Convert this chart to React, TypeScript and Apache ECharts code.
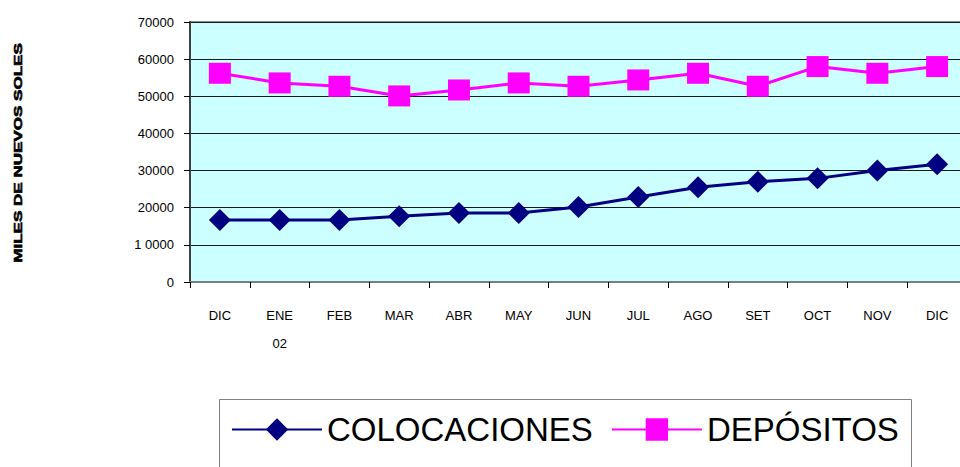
import React, { useEffect, useRef } from "react";
import * as echarts from "echarts";

const months = ["DIC", "ENE\n02", "FEB", "MAR", "ABR", "MAY", "JUN", "JUL", "AGO", "SET", "OCT", "NOV", "DIC"];
const colocaciones = [16700, 16700, 16700, 17700, 18600, 18600, 20200, 22900, 25500, 27000, 27900, 30000, 31700];
const depositos = [56200, 53600, 52700, 50100, 51700, 53600, 52700, 54400, 56200, 52700, 58000, 56200, 58000];
const yTickLabels = ["0", "1 0000", "20000", "30000", "40000", "50000", "60000", "70000"];
const yAxisTitle = "MILES DE NUEVOS SOLES";
const seriesNames = ["COLOCACIONES", "DEPÓSITOS"];

export default function App() {
  const ref = useRef<HTMLDivElement>(null);
  useEffect(() => {
    if (!ref.current) return;
    const chart = echarts.init(ref.current, undefined, { renderer: "svg" });
    const font = "'Liberation Sans', Arial, sans-serif";
    chart.setOption({
      animation: false,
      backgroundColor: "#ffffff",
      grid: {
        left: 190,
        right: 0,
        top: 22,
        bottom: 185,
        show: true,
        backgroundColor: "#CCFFFF",
        borderColor: "#8c8c8c",
        borderWidth: 2,
      },
      xAxis: {
        type: "category",
        data: months,
        boundaryGap: true,
        axisLine: { show: true, lineStyle: { color: "#7f7f7f", width: 2 } },
        axisTick: { show: true, length: 6, lineStyle: { color: "#000", width: 1 } },
        axisLabel: {
          color: "#000",
          fontFamily: font,
          fontSize: 13,
          margin: 19,
          lineHeight: 28,
          interval: 0,
        },
        splitLine: { show: false },
      },
      yAxis: {
        type: "value",
        min: 0,
        max: 70000,
        interval: 10000,
        axisLine: { show: true, lineStyle: { color: "#404040", width: 2 } },
        axisTick: { show: true, length: 6, lineStyle: { color: "#000", width: 1 } },
        axisLabel: {
          color: "#000",
          fontFamily: font,
          fontSize: 13,
          margin: 16,
          formatter: (_v: number, i: number) => yTickLabels[i],
        },
        splitLine: { show: true, lineStyle: { color: "#1a1a1a", width: 1 } },
      },
      legend: {
        left: 231,
        top: 413,
        itemWidth: 90,
        itemHeight: 28,
        itemGap: 18,
        data: seriesNames,
        textStyle: { color: "#000", fontFamily: font, fontSize: 33 },
        padding: 0,
      },
      graphic: [
        {
          type: "rect",
          shape: { x: 219.5, y: 399.5, width: 692, height: 90 },
          style: { fill: "#ffffff", stroke: "#808080", lineWidth: 1 },
          z: -1,
        },
        {
          type: "text",
          x: 18.5,
          y: 153,
          rotation: Math.PI / 2,
          scaleX: 1.55,
          style: {
            text: yAxisTitle,
            fontFamily: font,
            fontWeight: "bold",
            fontSize: 11,
            fill: "#000",
            stroke: "#000",
            lineWidth: 0.6,
            textAlign: "center",
            textVerticalAlign: "middle",
          },
        },
      ],
      series: [
        {
          name: seriesNames[0],
          type: "line",
          data: colocaciones,
          symbol: "diamond",
          symbolSize: 22,
          itemStyle: { color: "#000080" },
          lineStyle: { color: "#000080", width: 3 },
        },
        {
          name: seriesNames[1],
          type: "line",
          data: depositos,
          symbol: "rect",
          symbolSize: [22, 21],
          itemStyle: { color: "#FF00FF" },
          lineStyle: { color: "#FF00FF", width: 3 },
        },
      ],
    });
    return () => chart.dispose();
  }, []);
  return <div ref={ref} style={{ position: "fixed", left: 0, top: 0, width: 967, height: 467 }} />;
}
